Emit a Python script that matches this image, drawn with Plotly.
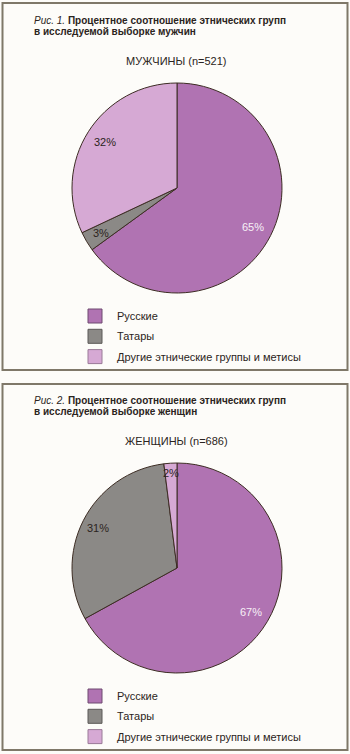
import math
import plotly.graph_objects as go

# ---- data -------------------------------------------------------------
GROUPS = ["Русские", "Татары", "Другие этнические группы и метисы"]
MEN_VALUES = [65, 3, 32]
WOMEN_VALUES = [67, 31, 2]
MEN_TITLE = "МУЖЧИНЫ (n=521)"
WOMEN_TITLE = "ЖЕНЩИНЫ (n=686)"
FIG_CAPTIONS = [
    ("Рис. 1.", "Процентное соотношение этнических групп", "в исследуемой выборке мужчин"),
    ("Рис. 2.", "Процентное соотношение этнических групп", "в исследуемой выборке женщин"),
]

# ---- style ------------------------------------------------------------
W, H = 350, 754
FONT = "Liberation Sans, Arial, sans-serif"
INK = "#2b2421"
BG = "#fdfcf9"
FRAME = "#7f7869"
SLICE_COLORS = ["#b073b2", "#8b8986", "#d6a9d4"]
SWATCH_EDGE = ["#6e4a70", "#5a5856", "#9a7a98"]
SLICE_EDGE = "#3d2d24"
LABEL_COLORS = ["#f7f0f7", INK, INK]
LABEL_R = [[0.81, 0.84, 0.81], [0.82, 0.84, 0.91]]

PANEL_DY = 380          # vertical offset of the second panel (px)
PIE_CX, PIE_CY, PIE_R = 177, 188, 105


def px(x):
    return x / W


def py(y):
    return 1 - y / H


fig = go.Figure()
annotations = []
shapes = []

panels = [
    (MEN_VALUES, MEN_TITLE, FIG_CAPTIONS[0]),
    (WOMEN_VALUES, WOMEN_TITLE, FIG_CAPTIONS[1]),
]

for k, (values, subtitle, caption) in enumerate(panels):
    dy = PANEL_DY * k
    cx, cy, r = PIE_CX, PIE_CY + dy, PIE_R

    # panel frame
    top = 3 if k == 0 else 384
    bottom = 370 if k == 0 else 750
    shapes.append(dict(type="rect", xref="paper", yref="paper",
                       x0=px(2.5), x1=px(347.5), y0=py(bottom), y1=py(top),
                       line=dict(color=FRAME, width=2), fillcolor="rgba(0,0,0,0)",
                       layer="below"))

    # caption (two lines)
    fig_no, line1, line2 = caption
    annotations.append(dict(
        text=f"<i>{fig_no}</i> <b>{line1}</b>", xref="paper", yref="paper",
        x=px(32), y=py(20.5 + dy), xanchor="left", yanchor="middle",
        showarrow=False, font=dict(family=FONT, size=10, color=INK)))
    annotations.append(dict(
        text=f"<b>{line2}</b>", xref="paper", yref="paper",
        x=px(32), y=py(31 + dy), xanchor="left", yanchor="middle",
        showarrow=False, font=dict(family=FONT, size=10, color=INK)))

    # chart subtitle
    annotations.append(dict(
        text=subtitle, xref="paper", yref="paper",
        x=px(176), y=py(61 + dy), xanchor="center", yanchor="middle",
        showarrow=False, font=dict(family=FONT, size=11, color=INK)))

    # pie
    fig.add_trace(go.Pie(
        labels=GROUPS, values=values, sort=False, direction="clockwise",
        rotation=0, textinfo="none", hoverinfo="label+percent",
        marker=dict(colors=SLICE_COLORS, line=dict(color=SLICE_EDGE, width=1)),
        domain=dict(x=[px(cx - r), px(cx + r)], y=[py(cy + r), py(cy - r)]),
        showlegend=False))

    # percentage labels along each slice's mid-angle
    total = sum(values)
    cum = 0
    for i, v in enumerate(values):
        theta = 2 * math.pi * (cum + v / 2) / total
        cum += v
        f = LABEL_R[k][i]
        lx = cx + r * f * math.sin(theta)
        ly = cy - r * f * math.cos(theta)
        annotations.append(dict(
            text=f"{v}%", xref="paper", yref="paper",
            x=px(lx), y=py(ly), xanchor="center", yanchor="middle",
            showarrow=False, font=dict(family=FONT, size=11, color=LABEL_COLORS[i])))

    # legend
    for i, name in enumerate(GROUPS):
        ycen = 316 + dy + i * 20.3
        shapes.append(dict(type="rect", xref="paper", yref="paper",
                           x0=px(88), x1=px(102), y0=py(ycen + 7), y1=py(ycen - 7),
                           fillcolor=SLICE_COLORS[i],
                           line=dict(color=SWATCH_EDGE[i], width=1)))
        annotations.append(dict(
            text=name, xref="paper", yref="paper",
            x=px(115), y=py(ycen), xanchor="left", yanchor="middle",
            showarrow=False, font=dict(family=FONT, size=11, color=INK)))

fig.update_layout(
    width=W, height=H,
    margin=dict(l=0, r=0, t=0, b=0),
    paper_bgcolor=BG, plot_bgcolor=BG,
    annotations=annotations, shapes=shapes,
    showlegend=False,
)

fig.write_html("out.html", config={"displayModeBar": False})
